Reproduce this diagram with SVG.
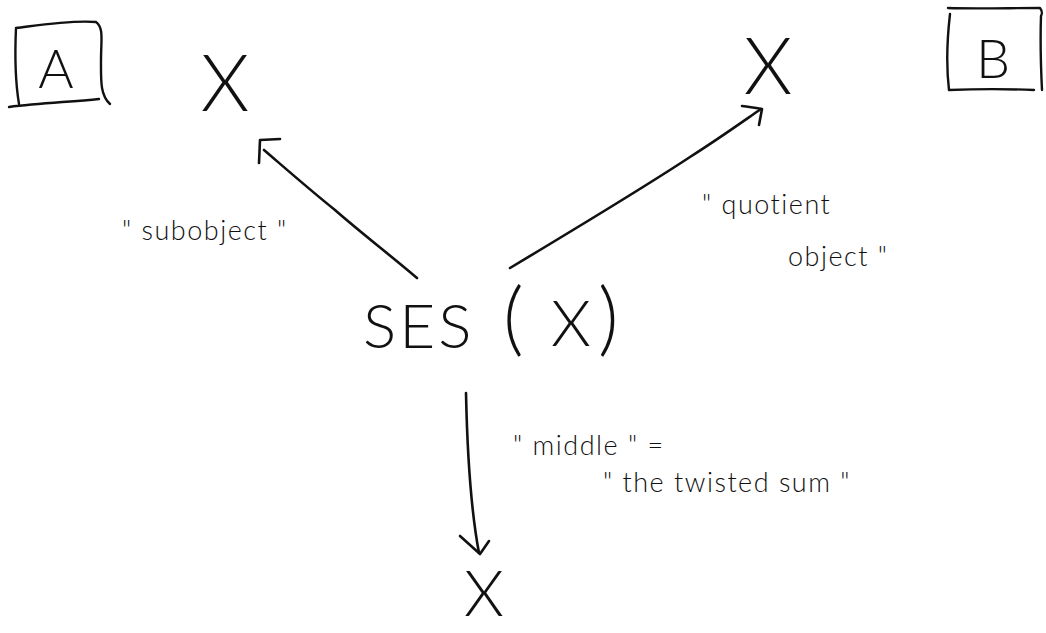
<svg xmlns="http://www.w3.org/2000/svg" width="1046" height="633" viewBox="0 0 1046 633">
<style>
.ink{fill:none;stroke:#111;stroke-linecap:round;stroke-linejoin:round}
.line{stroke-width:2.6}
.box{stroke-width:2.4}
.t{font-family:"Lato","Open Sans","Liberation Sans",sans-serif;font-weight:300;fill:#111}
.node{font-size:78px}
.lbl{font-size:27px;letter-spacing:1.5px}
</style>
<rect width="1046" height="633" fill="#fff"/>
<g id="nodeA">
<path class="ink box" d="M16,28 C40,25 70,20 96,22 C104,28 101,40 101,60 C101,80 100,95 110,104 M16,28 C15,50 15,80 19,104 M9,107 C40,103 70,102 99,99"/>
<text class="t" x="56" y="88" text-anchor="middle" font-size="54">A</text>
</g>
<g id="xTopLeft">
<text class="t node" x="225" y="111" text-anchor="middle">X</text>
</g>
<g id="xTopRight">
<text class="t node" x="768" y="94" text-anchor="middle">X</text>
</g>
<g id="nodeB">
<path class="ink box" d="M948,8 C975,9 1010,8 1040,8 C1043,12 1042,14 1041,16 C1040,45 1041,70 1042,90 M950,14 C947,40 946,65 949,90 C975,89 1010,89 1034,90"/>
<text class="t" x="993" y="78" text-anchor="middle" font-size="54">B</text>
</g>
<g id="ses">
<text class="t" x="363" y="348" font-size="62" letter-spacing="3">SES</text>
<text class="t" x="503" y="346" font-size="80">(</text>
<text class="t" x="571" y="346" text-anchor="middle" font-size="64">X</text>
<text class="t" x="598" y="346" font-size="80">)</text>
</g>
<g id="xBottom">
<text class="t" x="484" y="616" text-anchor="middle" font-size="64">X</text>
</g>
<g id="connectors">
<path class="ink line" d="M417,278 C390,255 360,232 335,210 C310,190 285,168 264,150"/>
<path class="ink line" d="M280,139 L260,140 L259,163"/>
<path class="ink line" d="M510,268 C570,232 640,190 690,157 C720,138 745,120 761,109"/>
<path class="ink line" d="M742,106 C750,107 756,108 762,109 L759,125"/>
<path class="ink line" d="M466,393 C467,440 469,500 479,553"/>
<path class="ink line" d="M460,536 L480,554 L489,541"/>
</g>
<g id="labels">
<text class="t lbl" x="122" y="240">" subobject "</text>
<text class="t lbl" x="702" y="214">" quotient</text>
<text class="t lbl" x="788" y="266">object "</text>
<text class="t lbl" x="513" y="455">" middle "  =</text>
<text class="t lbl" x="603" y="492">" the  twisted  sum "</text>
</g>
</svg>
